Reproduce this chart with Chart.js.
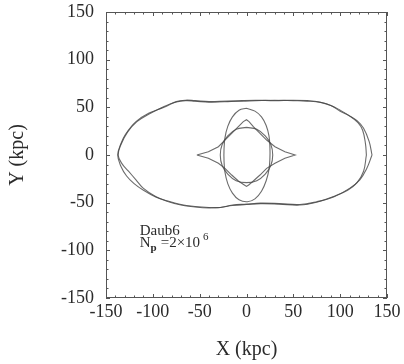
<!DOCTYPE html>
<html>
<head>
<meta charset="utf-8">
<script src="https://cdn.jsdelivr.net/npm/chart.js@4.4.1/dist/chart.umd.min.js"></script>
<style>
  html, body { margin: 0; padding: 0; background: #fff; }
  canvas { display: block; }
</style>
</head>
<body>
<canvas id="orbits" width="404" height="364"></canvas>
<script>
// axis ticks (kpc)
const majorTicks = [-150, -100, -50, 0, 50, 100, 150];
const minorStep = 10;

// outer orbit, two nearly overlapping loops (x, y in kpc)
const outerOrbitA = [
  [134, 0], [131, 14], [125, 28], [118, 36], [110, 41], [100, 46], [90, 52], [80, 55],
  [65, 56.5], [50, 57], [30, 57.5], [10, 57], [-5, 56.5], [-20, 56.5], [-40, 56], [-55, 57],
  [-65, 57.5], [-75, 56], [-88, 50], [-104, 44], [-118, 35], [-129, 22], [-134, 12], [-137.5, 0],
  [-134, -12], [-128, -22], [-120, -30], [-110, -37], [-97, -44], [-85, -48], [-70, -52],
  [-55, -54], [-40, -55], [-28, -55], [-15, -52.5], [0, -51.5], [15, -50.5], [35, -51],
  [57, -52], [75, -49], [93, -44], [110, -35], [121, -26], [128, -15], [134, 0]
];
const outerOrbitB = [
  [128, 0], [127, 12], [124, 26], [119, 34], [110, 41], [100, 47], [90, 52], [78, 55.5],
  [65, 57], [50, 57.5], [30, 57], [10, 57.5], [-5, 57], [-20, 56], [-40, 55.5], [-55, 56.5],
  [-65, 57], [-75, 55.5], [-88, 51], [-104, 43], [-117, 35], [-127, 24], [-134, 11], [-137, 0],
  [-133, -9], [-126, -17], [-118, -26], [-110, -35], [-97, -43.5], [-85, -48.5], [-70, -52.5],
  [-55, -54.5], [-40, -55.5], [-28, -55], [-15, -53], [0, -52], [15, -51], [35, -51.5],
  [57, -52.5], [75, -49.5], [93, -43.5], [108, -37], [118, -29], [125, -17], [128, 0]
];
// tall inner ellipse
const ellipseOrbit = [
  [0, 49], [9, 46], [16, 40], [21, 31], [24, 20], [25, 8], [25, -3], [24, -15], [21, -27],
  [16, -38], [9, -46], [1, -49], [-8, -47], [-15, -40], [-20, -30], [-23, -18], [-24, -6],
  [-24, 6], [-23, 18], [-20, 30], [-15, 40], [-8, 47], [0, 49]
];
// near-circular loop
const circleOrbit = [
  [0, 29], [11, 27], [20, 20], [26, 11], [28, 0], [26, -11], [20, -20], [11, -27], [0, -29],
  [-11, -27], [-20, -20], [-26, -11], [-28, 0], [-26, 11], [-20, 20], [-11, 27], [0, 29]
];
// four-cusped loop
const starOrbit = [
  [-53, 0], [-40.7, 3.5], [-30, 8.7], [-23, 15.7], [-15.8, 22.7], [-8.7, 29.7], [-3.4, 35], [0, 37],
  [2.7, 35], [7.3, 29.7], [14.4, 22.7], [21.5, 15.7], [30.4, 8.7], [41, 3.5], [52, 0],
  [41, -3.5], [30.4, -8.7], [21.5, -14], [14.4, -21], [7.3, -27.3], [2.3, -31.5], [0, -33],
  [-2.3, -31.5], [-8.7, -27.3], [-15.8, -21], [-23, -14], [-30, -8.7], [-40.7, -3.5], [-53, 0]
];

const serif = "'Liberation Serif', 'DejaVu Serif', serif";
const ink = '#2b2b2b';

function toPoints(arr) {
  return arr.map(p => ({ x: p[0], y: p[1] }));
}
function lineSet(arr, tension) {
  return {
    data: toPoints(arr),
    showLine: true,
    borderColor: 'rgba(70,70,70,0.8)',
    borderWidth: 1.1,
    pointRadius: 0,
    tension: tension,
    fill: false
  };
}

const minorTicks = [];
for (let i = 0; i < majorTicks.length - 1; i++) {
  for (let v = majorTicks[i] + minorStep; v < majorTicks[i + 1]; v += minorStep) minorTicks.push(v);
}

// box frame with inward ticks on all four sides, plus the run label
const framePlugin = {
  id: 'frame',
  afterDraw(chart) {
    const { ctx, chartArea: a, scales } = chart;
    const xs = scales.x, ys = scales.y;
    ctx.save();
    ctx.strokeStyle = '#555';
    ctx.lineWidth = 1;
    ctx.strokeRect(a.left + 0.5, a.top + 0.5, a.right - a.left - 1, a.bottom - a.top - 1);
    const mark = (v, len) => {
      const px = Math.round(xs.getPixelForValue(v)) + 0.5;
      const py = Math.round(ys.getPixelForValue(v)) + 0.5;
      ctx.beginPath();
      ctx.moveTo(px, a.bottom); ctx.lineTo(px, a.bottom - len);
      ctx.moveTo(px, a.top); ctx.lineTo(px, a.top + len);
      ctx.moveTo(a.left, py); ctx.lineTo(a.left + len, py);
      ctx.moveTo(a.right, py); ctx.lineTo(a.right - len, py);
      ctx.stroke();
    };
    majorTicks.forEach(v => mark(v, 4));
    minorTicks.forEach(v => mark(v, 2.5));

    // label "Daub6 / Np = 2x10^6"
    ctx.fillStyle = ink;
    ctx.textBaseline = 'alphabetic';
    ctx.textAlign = 'left';
    const lx = xs.getPixelForValue(-114);
    const ly1 = ys.getPixelForValue(-84);
    const ly2 = ys.getPixelForValue(-96.5);
    ctx.font = '15px ' + serif;
    ctx.fillText('Daub6', lx, ly1);
    ctx.fillText('N', lx, ly2);
    let cx = lx + ctx.measureText('N').width;
    ctx.font = 'bold 11px ' + serif;
    ctx.fillText('p', cx, ly2 + 4);
    cx += ctx.measureText('p').width + 4;
    ctx.font = '15px ' + serif;
    ctx.fillText('=2\u00d710', cx, ly2);
    cx += ctx.measureText('=2\u00d710').width + 3;
    ctx.font = '11px ' + serif;
    ctx.fillText('6', cx, ly2 - 7);
    ctx.restore();
  }
};

new Chart(document.getElementById('orbits').getContext('2d'), {
  type: 'scatter',
  data: {
    datasets: [
      lineSet(outerOrbitA, 0.4),
      lineSet(outerOrbitB, 0.4),
      lineSet(ellipseOrbit, 0.4),
      lineSet(circleOrbit, 0.4),
      lineSet(starOrbit, 0)
    ]
  },
  options: {
    responsive: false,
    animation: false,
    layout: { padding: { top: 12, right: 17, left: 0, bottom: 0 } },
    plugins: { legend: { display: false }, tooltip: { enabled: false } },
    scales: {
      x: {
        type: 'linear',
        min: -150, max: 150,
        afterBuildTicks: s => { s.ticks = majorTicks.map(v => ({ value: v })); },
        afterFit: s => { s.height = 66; s.paddingLeft = 0; s.paddingRight = 0; },
        grid: { display: false, drawTicks: false },
        border: { display: false },
        ticks: { color: ink, font: { family: serif, size: 18 }, padding: 3, maxRotation: 0, autoSkip: false },
        title: { display: true, text: 'X (kpc)', color: ink, font: { family: serif, size: 20 }, padding: { top: 0, bottom: 2 } }
      },
      y: {
        type: 'linear',
        min: -150, max: 150,
        afterBuildTicks: s => { s.ticks = majorTicks.map(v => ({ value: v })); },
        afterFit: s => { s.width = 106; s.paddingTop = 0; s.paddingBottom = 0; },
        grid: { display: false, drawTicks: false },
        border: { display: false },
        ticks: { color: ink, font: { family: serif, size: 18 }, padding: 12, autoSkip: false },
        title: { display: true, text: 'Y (kpc)', color: ink, font: { family: serif, size: 20 }, padding: { top: 6, bottom: 0 } }
      }
    }
  },
  plugins: [framePlugin]
});
</script>
</body>
</html>
